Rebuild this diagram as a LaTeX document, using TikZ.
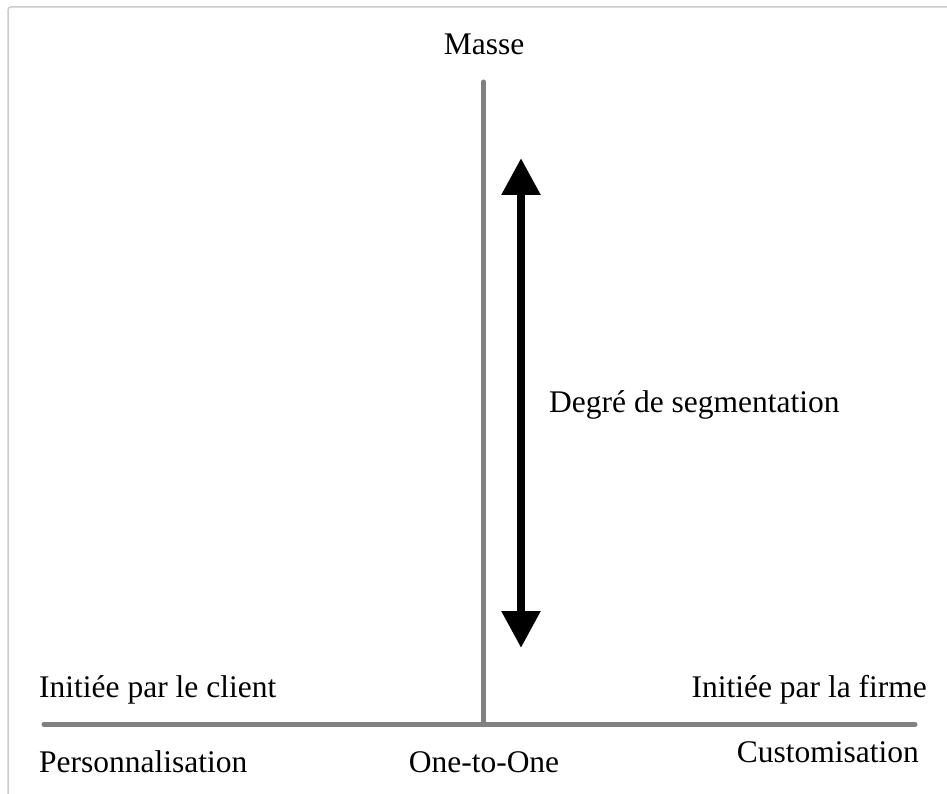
\documentclass[tikz,border=0pt]{standalone}
\usepackage{fontspec}
\setmainfont{Liberation Serif}
\usetikzlibrary{arrows.meta}
\begin{document}
\begin{tikzpicture}[x=1pt,y=-1pt,
  lbl/.style={inner sep=0pt, font=\fontsize{31.5}{38}\selectfont},
  axisline/.style={line width=5pt, draw=axisgray, line cap=round},
  bigarrow/.style={line width=8.5pt, {Triangle[width=37pt,length=37pt]}-{Triangle[width=37pt,length=37pt]}}]
\definecolor{axisgray}{HTML}{808080}
\definecolor{framegray}{HTML}{CCCCCC}
\useasboundingbox (0,0) rectangle (947,794);
\fill[white] (0,0) rectangle (947,794);
\begin{scope}
\clip (0,0) rectangle (947,794);
\draw[framegray, line width=1.5pt, rounded corners=3pt] (8,810) -- (8,7) -- (960,7);
\end{scope}
% axes
\coordinate (vtop) at (483.5,82);
\coordinate (vbot) at (483.5,724.5);
\coordinate (hleft) at (44,724.5);
\coordinate (hright) at (915,724.5);
\draw[axisline] (vtop) -- (vbot);
\draw[axisline] (hleft) -- (hright);
% arrow
\coordinate (atop) at (521,158);
\coordinate (abot) at (521,648);
\draw[bigarrow] (atop) -- (abot);
% labels
\node[lbl, anchor=base] (masse) at (484,55) {Masse};
\node[lbl, anchor=base west] (degre) at (549,412) {Degré de segmentation};
\node[lbl, anchor=base west] (client) at (39,697) {Initiée par le client};
\node[lbl, anchor=base east] (firme) at (927,697) {Initiée par la firme};
\node[lbl, anchor=base west] (perso) at (39,772) {Personnalisation};
\node[lbl, anchor=base] (one) at (484,772) {One-to-One};
\node[lbl, anchor=base east] (custom) at (919,762) {Customisation};
\end{tikzpicture}
\end{document}
